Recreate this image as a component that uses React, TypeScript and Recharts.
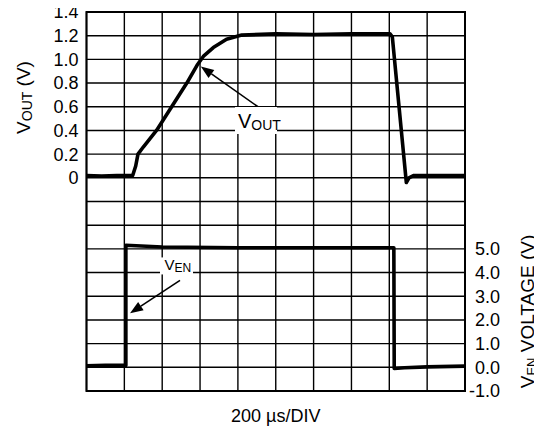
import React from "react";
import {
  LineChart,
  Line,
  XAxis,
  YAxis,
  CartesianGrid,
  ReferenceArea,
  ReferenceLine,
  ReferenceDot,
} from "recharts";

// time in divisions (200 µs/DIV), 10 divisions across
const timeTicks = [0, 1, 2, 3, 4, 5, 6, 7, 8, 9, 10];

// VOUT axis covers the whole grid, only 0..1.4 is labelled
const voutTicks = [
  -1.8, -1.6, -1.4, -1.2, -1.0, -0.8, -0.6, -0.4, -0.2, 0, 0.2, 0.4, 0.6, 0.8,
  1.0, 1.2, 1.4,
];
const venTicks = [-1, 0, 1, 2, 3, 4, 5];

const voutTrace = [
  { t: 0, v: 0.02 },
  { t: 0.4, v: 0.015 },
  { t: 0.8, v: 0.02 },
  { t: 1.22, v: 0.02 },
  { t: 1.3, v: 0.1 },
  { t: 1.36, v: 0.2 },
  { t: 1.5, v: 0.26 },
  { t: 1.85, v: 0.4 },
  { t: 2.25, v: 0.6 },
  { t: 2.65, v: 0.8 },
  { t: 2.92, v: 0.95 },
  { t: 3.1, v: 1.03 },
  { t: 3.35, v: 1.1 },
  { t: 3.7, v: 1.17 },
  { t: 4.1, v: 1.205 },
  { t: 5, v: 1.215 },
  { t: 6, v: 1.21 },
  { t: 7, v: 1.215 },
  { t: 8.02, v: 1.215 },
  { t: 8.08, v: 1.19 },
  { t: 8.45, v: -0.04 },
  { t: 8.52, v: 0.0 },
  { t: 8.65, v: 0.02 },
  { t: 10, v: 0.02 },
];

const venTrace = [
  { t: 0, v: 0.06 },
  { t: 0.5, v: 0.08 },
  { t: 1.04, v: 0.08 },
  { t: 1.04, v: 5.15 },
  { t: 2, v: 5.08 },
  { t: 4, v: 5.05 },
  { t: 6, v: 5.05 },
  { t: 8.12, v: 5.05 },
  { t: 8.13, v: -0.05 },
  { t: 8.4, v: -0.02 },
  { t: 9, v: 0.02 },
  { t: 10, v: 0.05 },
];

const FONT = "'Liberation Sans', Arial, Helvetica, sans-serif";

const arrow = (p: any) => {
  const { x1, y1, x2, y2 } = p;
  // x1,y1 = tail, x2,y2 = head
  const ang = Math.atan2(y2 - y1, x2 - x1);
  const len = 13;
  const half = 5;
  const bx = x2 - len * Math.cos(ang);
  const by = y2 - len * Math.sin(ang);
  const px = -Math.sin(ang) * half;
  const py = Math.cos(ang) * half;
  return (
    <g>
      <line x1={x1} y1={y1} x2={bx} y2={by} stroke="#000" strokeWidth={1.6} />
      <polygon
        points={`${x2},${y2} ${bx + px},${by + py} ${bx - px},${by - py}`}
        fill="#000"
      />
    </g>
  );
};

const voutTag = (p: any) => {
  const { cx, cy } = p;
  return (
    <g>
      <rect x={cx - 21} y={cy - 13.5} width={42} height={27} fill="#fff" />
      <text x={cx - 18} y={cy + 7.5} fontFamily={FONT} fontSize={20} fill="#000">
        V
        <tspan fontSize={14} dy={2}>
          OUT
        </tspan>
      </text>
    </g>
  );
};

const venTag = (p: any) => {
  const { cx, cy } = p;
  return (
    <g>
      <rect x={cx - 16.5} y={cy - 8.5} width={33} height={17} fill="#fff" />
      <text x={cx - 12} y={cy + 4.5} fontFamily={FONT} fontSize={15} fill="#000">
        V
        <tspan fontSize={12} dy={2}>
          EN
        </tspan>
      </text>
    </g>
  );
};

const VenTick = (p: any) => {
  const { x, y, payload } = p;
  return (
    <text
      x={x + 33}
      y={y}
      dy="0.355em"
      textAnchor="end"
      fontFamily={FONT}
      fontSize={18}
      fill="#000"
    >
      {payload.value.toFixed(1)}
    </text>
  );
};

const NoTick = () => <g />;

const VoutLabel = (p: any) => {
  const { viewBox } = p;
  const x = viewBox.x + 30;
  const y = viewBox.y + viewBox.height / 2 - 104;
  return (
    <text
      x={x}
      y={y}
      transform={`rotate(-90, ${x}, ${y})`}
      textAnchor="middle"
      fontFamily={FONT}
      fontSize={19}
      fill="#000"
    >
      V
      <tspan fontSize={14} dy={2}>
        OUT
      </tspan>
      <tspan dy={-2}> (V)</tspan>
    </text>
  );
};

const VenLabel = (p: any) => {
  const { viewBox } = p;
  const x = viewBox.x + 69;
  const y = viewBox.y + viewBox.height / 2 + 110;
  return (
    <text
      x={x}
      y={y}
      transform={`rotate(-90, ${x}, ${y})`}
      textAnchor="middle"
      fontFamily={FONT}
      fontSize={19}
      fill="#000"
    >
      V
      <tspan fontSize={13} dy={2}>
        EN
      </tspan>
      <tspan dy={-2}> VOLTAGE (V)</tspan>
    </text>
  );
};

const TimeLabel = (p: any) => {
  const { viewBox } = p;
  return (
    <text
      x={viewBox.x + viewBox.width / 2}
      y={viewBox.y + 31}
      textAnchor="middle"
      fontFamily={FONT}
      fontSize={18}
      fill="#000"
    >
      200 µs/DIV
    </text>
  );
};

export default function App() {
  return (
    <div style={{ margin: "-8px 0 0 -8px", width: 542, height: 431 }}>
      <LineChart
        width={542}
        height={431}
        data={timeTicks.map((t) => ({ t }))}
        margin={{ top: 12, right: 0, bottom: 0, left: 0 }}
        style={{ fontFamily: FONT }}
      >
        <CartesianGrid stroke="#000" strokeWidth={1.4} />
        <XAxis
          dataKey="t"
          type="number"
          domain={[0, 10]}
          ticks={timeTicks}
          interval={0}
          tick={NoTick}
          tickLine={false}
          axisLine={false}
          height={40}
          label={TimeLabel}
        />
        <YAxis
          type="number"
          domain={[-1.8, 1.4]}
          ticks={voutTicks}
          width={86.5}
          axisLine={false}
          tickLine={false}
          tickSize={0}
          tickMargin={8}
          interval={0}
          tick={{ fill: "#000", fontSize: 18 }}
          tickFormatter={(v: number) =>
            v < -0.01 ? "" : v === 0 ? "0" : v.toFixed(1)
          }
          label={VoutLabel}
        />
        <YAxis
          yAxisId="ven"
          orientation="right"
          type="number"
          domain={[-1, 15]}
          ticks={venTicks}
          width={77}
          axisLine={false}
          tickLine={false}
          tickSize={0}
          interval={0}
          tick={VenTick}
          label={VenLabel}
        />
        <ReferenceArea
          x1={0}
          x2={10}
          y1={-1.8}
          y2={1.4}
          fill="none"
          stroke="#000"
          strokeWidth={2}
        />
        <ReferenceLine
          segment={[
            { x: 4.53, y: 0.6 },
            { x: 3.02, y: 0.94 },
          ]}
          shape={arrow}
        />
        <ReferenceDot x={4.478} y={0.484} r={0} shape={voutTag} />
        <ReferenceLine
          yAxisId="ven"
          segment={[
            { x: 2.47, y: 3.67 },
            { x: 1.15, y: 2.28 },
          ]}
          shape={arrow}
        />
        <ReferenceDot yAxisId="ven" x={2.378} y={4.28} r={0} shape={venTag} />
        <Line
          data={voutTrace}
          dataKey="v"
          type="linear"
          stroke="#000"
          strokeWidth={3.6}
          strokeLinejoin="round"
          dot={false}
          isAnimationActive={false}
        />
        <Line
          data={venTrace}
          yAxisId="ven"
          dataKey="v"
          type="linear"
          stroke="#000"
          strokeWidth={3.6}
          strokeLinejoin="round"
          dot={false}
          isAnimationActive={false}
        />
      </LineChart>
    </div>
  );
}
